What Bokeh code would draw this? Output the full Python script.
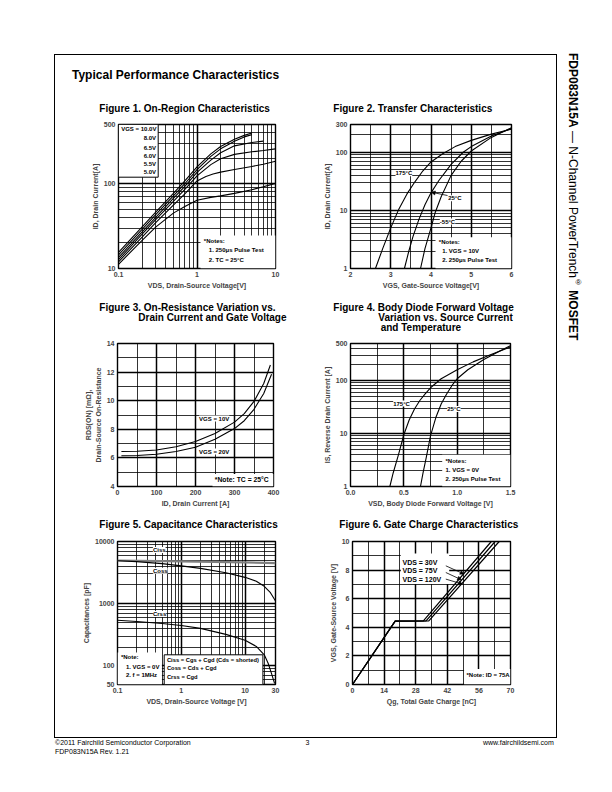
from bokeh.plotting import figure
from bokeh.models import (Range1d, FixedTicker, Grid, NumeralTickFormatter, Label,
                          BoxAnnotation, Arrow, NormalHead, Div, Spacer)
from bokeh.layouts import row, column
from bokeh.embed import file_html
from bokeh.resources import INLINE

FONT = "Liberation Sans"
CSS_FONT = "'Liberation Sans', Arial, sans-serif"

# ---------------- data ----------------
# Figure 1: On-Region Characteristics, ID [A] vs VDS [V]
f1_vds_10v = [0.1, 0.2, 0.3, 0.5, 0.7, 1.0, 1.5, 2.0, 3.0, 4.0, 5.0]
f1_id_10v = [15.5, 31, 46.5, 77, 108, 158, 225, 275, 335, 372, 398]
f1_vds_8v = [0.1, 0.2, 0.3, 0.5, 0.7, 1.0, 1.5, 2.0, 3.0, 4.0, 5.0]
f1_id_8v = [14.5, 29, 43.5, 72, 100, 147, 210, 258, 318, 357, 380]
f1_vds_6v5 = [0.1, 0.2, 0.3, 0.5, 0.7, 1.0, 1.5, 2.0, 3.0, 5.0, 7.0]
f1_id_6v5 = [13.5, 27, 40.5, 67, 93, 136, 190, 232, 280, 306, 318]
f1_vds_6v = [0.1, 0.2, 0.3, 0.5, 0.7, 1.0, 1.5, 2.0, 3.0, 5.0, 7.0, 10.0]
f1_id_6v = [12.7, 25.5, 38, 62, 86, 124, 168, 197, 222, 238, 247, 258]
f1_vds_5v5 = [0.1, 0.2, 0.3, 0.5, 0.7, 1.0, 1.3, 1.6, 2.0, 3.0, 5.0, 7.0, 10.0]
f1_id_5v5 = [12, 23.5, 35, 56, 76, 108, 122, 130, 137, 147, 160, 170, 184]
f1_vds_5v = [0.1, 0.2, 0.3, 0.5, 0.7, 1.0, 1.5, 2.0, 3.0, 5.0, 7.0, 10.0]
f1_id_5v = [11.2, 21.5, 31, 45, 54, 64, 69, 72, 77, 85, 92, 101]
f1_legend = ["VGS = 10.0V", "8.0V", "6.5V", "6.0V", "5.5V", "5.0V"]

# Figure 2: Transfer Characteristics, ID [A] vs VGS [V]
f2_vgs_175 = [2.62, 2.8, 3.0, 3.2, 3.4, 3.6, 3.8, 4.0, 4.3, 4.6, 5.0, 5.5, 6.0]
f2_id_175 = [1, 2.2, 5, 10.5, 19, 31, 48, 68, 95, 125, 160, 205, 250]
f2_vgs_25 = [3.34, 3.45, 3.55, 3.7, 3.85, 4.0, 4.2, 4.5, 4.8, 5.0, 5.5, 6.0]
f2_id_25 = [1, 2, 3.5, 7, 12.5, 20, 33, 62, 100, 125, 190, 255]
f2_vgs_m55 = [3.74, 3.85, 4.0, 4.1, 4.25, 4.5, 4.75, 5.0, 5.5, 6.0]
f2_id_m55 = [1, 2.2, 5, 9, 17, 40, 70, 105, 180, 265]

# Figure 3: On-Resistance vs Drain Current, RDS(on) [mOhm] vs ID [A]
f3_id_10v = [10, 50, 100, 150, 200, 250, 300, 325, 350, 375, 392]
f3_r_10v = [6.45, 6.47, 6.55, 6.78, 7.15, 7.7, 8.5, 9.1, 9.95, 11.2, 12.5]
f3_id_20v = [10, 50, 100, 150, 200, 250, 300, 325, 350, 375, 395]
f3_r_20v = [6.15, 6.17, 6.25, 6.45, 6.75, 7.3, 8.05, 8.6, 9.4, 10.5, 11.85]

# Figure 4: Body Diode Forward Voltage, IS [A] vs VSD [V]
f4_vsd_175 = [0.369, 0.4, 0.45, 0.5, 0.55, 0.6, 0.65, 0.7, 0.75, 0.85, 1.0, 1.15, 1.3, 1.5]
f4_is_175 = [1, 1.8, 4, 9.5, 18, 29, 42, 56, 73, 108, 160, 225, 300, 430]
f4_vsd_25 = [0.656, 0.68, 0.71, 0.75, 0.8, 0.85, 0.9, 0.95, 1.0, 1.1, 1.25, 1.4, 1.5]
f4_is_25 = [1, 1.8, 3.5, 9, 20, 36, 55, 80, 108, 160, 250, 360, 455]

# Figure 5: Capacitance [pF] vs VDS [V]
f5_vds_ciss = [0.1, 1, 10, 30]
f5_ciss = [4950, 4800, 4600, 4500]
f5_vds_coss = [0.1, 0.2, 0.5, 1, 2, 5, 10, 15, 20, 25, 30]
f5_coss = [4900, 4750, 4400, 4050, 3700, 3150, 2650, 2300, 1900, 1500, 1100]
f5_vds_crss = [0.1, 0.2, 0.5, 1, 2, 5, 10, 15, 20, 23, 26, 29]
f5_crss = [540, 515, 480, 445, 400, 320, 258, 205, 150, 110, 75, 52]

# Figure 6: Gate Charge, VGS [V] vs Qg [nC]
f6_qg_30v = [0, 18.9, 31.4, 61.5]
f6_qg_75v = [0, 18.9, 32.6, 63.2]
f6_qg_120v = [0, 18.9, 33.8, 65.0]
f6_vgs = [0, 4.43, 4.45, 10]

# ---------------- helpers ----------------
L, R, T, B = 52, 8, 4, 34


def log_minor(start, end):
    out = []
    e = -3
    while 10 ** e < end * 10:
        for m in range(2, 10):
            v = m * 10 ** e
            if start < v < end:
                out.append(v)
        e += 1
    return out


def chart(fw, fh, xr, yr, xtype, ytype, xticks, yticks, xfmt, yfmt, xlabel, ylabel,
          xminor, xmajor, yminor, ymajor, ylab_lh=1.2):
    p = figure(width=L + fw + R, height=T + fh + B, x_range=Range1d(*xr), y_range=Range1d(*yr),
               x_axis_type=xtype, y_axis_type=ytype, output_backend="svg", toolbar_location=None,
               min_border_left=L, min_border_right=R, min_border_top=T, min_border_bottom=B)
    p.xgrid.visible = False
    p.ygrid.visible = False
    p.outline_line_color = "black"
    p.outline_line_width = 1.4
    p.outline_line_alpha = 1.0
    p.background_fill_color = "white"
    p.border_fill_color = "white"
    for ax, ticks, fmt, lab_ in ((p.xaxis[0], xticks, xfmt, xlabel), (p.yaxis[0], yticks, yfmt, ylabel)):
        ax.ticker = FixedTicker(ticks=ticks, minor_ticks=[])
        ax.formatter = NumeralTickFormatter(format=fmt)
        ax.axis_label = lab_
        ax.axis_line_color = None
        ax.major_tick_line_color = None
        ax.minor_tick_line_color = None
        ax.major_tick_out = 0
        ax.major_tick_in = 0
        ax.minor_tick_out = 0
        ax.minor_tick_in = 0
        ax.major_label_text_font = FONT
        ax.major_label_text_font_size = "7px"
        ax.major_label_text_font_style = "bold"
        ax.major_label_standoff = 3
        ax.axis_label_text_font = FONT
        ax.axis_label_text_font_size = "7px"
        ax.axis_label_text_font_style = "bold"
        ax.axis_label_standoff = 2
    p.yaxis[0].axis_label_text_line_height = ylab_lh
    for dim, ticks, w in ((0, xminor, 0.8), (0, xmajor, 1.5), (1, yminor, 0.8), (1, ymajor, 1.5)):
        if ticks:
            p.add_layout(Grid(dimension=dim, ticker=FixedTicker(ticks=ticks),
                              grid_line_color="black", grid_line_width=w))
    return p


def fh_of(p):
    return p.height - T - B


def lab(p, text, fx, fy, size="6px", align="left", bold=True, bg=False):
    kw = dict(x=fx, y=fh_of(p) - fy, x_units="screen", y_units="screen", text=text,
              text_font=FONT, text_font_size=size, text_font_style="bold" if bold else "normal",
              text_align=align, text_baseline="middle", text_color="black")
    if bg:
        kw.update(background_fill_color="white", background_fill_alpha=1.0)
    p.add_layout(Label(**kw))


def box(p, x0, x1, y0, y1, border=False):
    fh = fh_of(p)
    p.add_layout(BoxAnnotation(left=x0, right=x1, top=fh - y0, bottom=fh - y1,
                               left_units="screen", right_units="screen",
                               top_units="screen", bottom_units="screen",
                               fill_color="white", fill_alpha=1.0,
                               line_color="black" if border else None, line_alpha=1.0,
                               line_width=1, level="annotation"))


def arrow(p, x0, y0, x1, y1):
    fh = fh_of(p)
    p.add_layout(Arrow(end=NormalHead(size=4, fill_color="black", line_color="black", line_width=0.5),
                       x_start=x0, y_start=fh - y0, x_end=x1, y_end=fh - y1,
                       start_units="screen", end_units="screen",
                       line_color="black", line_width=0.8))


LW = 1.1

# ---------------- Figure 1 ----------------
p1 = chart(157, 144, (0.1, 10), (10, 500), "log", "log", [0.1, 1, 10], [10, 100, 500], "0.[0]", "0",
           "VDS, Drain-Source Voltage[V]", "ID, Drain Current[A]",
           log_minor(0.1, 10), [1], log_minor(10, 500), [100])
for xs, ys in ((f1_vds_10v, f1_id_10v), (f1_vds_8v, f1_id_8v), (f1_vds_6v5, f1_id_6v5),
               (f1_vds_6v, f1_id_6v), (f1_vds_5v5, f1_id_5v5), (f1_vds_5v, f1_id_5v)):
    p1.line(xs, ys, line_color="black", line_width=LW)
box(p1, 0, 39.7, 0, 52.7, border=True)
lab(p1, f1_legend[0], 2.7, 4.7)
for i, fy in enumerate([13.7, 23.0, 31.3, 39.7, 47.7]):
    lab(p1, f1_legend[i + 1], 37.5, fy, align="right")
box(p1, 82, 157, 111, 144)
lab(p1, "*Notes:", 85.3, 116.7)
lab(p1, "1. 250\u03bcs Pulse Test", 90.3, 125.0)
lab(p1, "2. TC = 25\u00b0C", 90.3, 135.0)

# ---------------- Figure 2 ----------------
p2 = chart(161, 144, (2, 6), (1, 300), "linear", "log", [2, 3, 4, 5, 6], [1, 10, 100, 300], "0", "0",
           "VGS, Gate-Source Voltage[V]", "ID, Drain Current[A]",
           [2.5, 3.5, 4.5, 5.5], [3, 4, 5], log_minor(1, 300), [10, 100])
for xs, ys in ((f2_vgs_175, f2_id_175), (f2_vgs_25, f2_id_25), (f2_vgs_m55, f2_id_m55)):
    p2.line(xs, ys, line_color="black", line_width=LW)
lab(p2, "175\u00b0C", 45.0, 48.7, bg=True)
lab(p2, "25\u00b0C", 97.7, 73.7, bg=True)
arrow(p2, 97.0, 71.0, 80.7, 67.7)
lab(p2, "-55\u00b0C", 89.3, 97.0, bg=True)
box(p2, 85, 161, 112.7, 144)
lab(p2, "*Notes:", 88.3, 117.7)
lab(p2, "1. VGS = 10V", 91.7, 126.7)
lab(p2, "2. 250\u03bcs Pulse Test", 91.7, 135.3)

# ---------------- Figure 3 ----------------
p3 = chart(156, 143, (0, 400), (4, 14), "linear", "linear", [0, 100, 200, 300, 400], [4, 6, 8, 10, 12, 14],
           "0", "0", "ID, Drain Current [A]", "RDS(ON) [m\u03a9],\nDrain-Source On-Resistance",
           [50, 150, 250, 350], [100, 200, 300], [5, 7, 9, 11, 13], [6, 8, 10, 12], ylab_lh=1.4)
p3.line(f3_id_10v, f3_r_10v, line_color="black", line_width=LW)
p3.line(f3_id_20v, f3_r_20v, line_color="black", line_width=LW)
lab(p3, "VGS = 10V", 81.6, 75.0, bg=True)
lab(p3, "VGS = 20V", 81.6, 108.0, bg=True)
box(p3, 95, 156, 130.6, 143)
lab(p3, "*Note: TC = 25\u00b0C", 97.3, 135.6, size="6.8px")

# ---------------- Figure 4 ----------------
p4 = chart(160, 143, (0, 1.5), (1, 500), "linear", "log", [0, 0.5, 1.0, 1.5], [1, 10, 100, 500], "0.0", "0",
           "VSD, Body Diode Forward Voltage [V]", "IS, Reverse Drain Current [A]",
           [0.25, 0.75, 1.25], [0.5, 1.0], log_minor(1, 500), [10, 100])
p4.line(f4_vsd_175, f4_is_175, line_color="black", line_width=LW)
p4.line(f4_vsd_25, f4_is_25, line_color="black", line_width=LW)
lab(p4, "175\u00b0C", 42.7, 60.0, bg=True)
lab(p4, "25\u00b0C", 96.7, 65.6, bg=True)
box(p4, 91.7, 160, 111.3, 143)
lab(p4, "*Notes:", 95, 117.3)
lab(p4, "1. VGS = 0V", 95, 126.3)
lab(p4, "2. 250\u03bcs Pulse Test", 95, 135.0)

# ---------------- Figure 5 ----------------
p5 = chart(158, 143, (0.1, 30), (50, 10000), "log", "log", [0.1, 1, 10, 30], [50, 100, 1000, 10000],
           "0.[0]", "0", "VDS, Drain-Source Voltage [V]", "Capacitances [pF]",
           log_minor(0.1, 30), [1, 10], log_minor(50, 10000), [100, 1000])
p5.line(f5_vds_ciss, f5_ciss, line_color="#808080", line_width=2.2)
p5.line(f5_vds_coss, f5_coss, line_color="black", line_width=LW)
p5.line(f5_vds_crss, f5_crss, line_color="black", line_width=LW)
lab(p5, "Ciss", 35.4, 8.6, bg=True)
lab(p5, "Coss", 35.4, 29.3, bg=True)
lab(p5, "Crss", 35.4, 72.6, bg=True)
box(p5, 0, 44.4, 111, 143)
lab(p5, "*Note:", 3.4, 115.0)
lab(p5, "1. VGS = 0V", 8.4, 125.0)
lab(p5, "2. f = 1MHz", 8.4, 133.6)
box(p5, 46.7, 145.4, 113.3, 143, border=True)
lab(p5, "Ciss = Cgs + Cgd (Cds = shorted)", 49.4, 118.6, size="5.8px")
lab(p5, "Coss = Cds + Cgd", 49.4, 126.6, size="5.8px")
lab(p5, "Crss = Cgd", 49.4, 135.0, size="5.8px")

# ---------------- Figure 6 ----------------
p6 = chart(158, 143, (0, 70), (0, 10), "linear", "linear", [0, 14, 28, 42, 56, 70], [0, 2, 4, 6, 8, 10],
           "0", "0", "Qg, Total Gate Charge [nC]", "VGS, Gate-Source Voltage [V]",
           [7, 21, 35, 49, 63], [14, 28, 42, 56], [1, 3, 5, 7, 9], [2, 4, 6, 8])
for xs in (f6_qg_30v, f6_qg_75v, f6_qg_120v):
    p6.line(xs, f6_vgs, line_color="black", line_width=1.2)
box(p6, 48.3, 96.7, 12, 42.6)
lab(p6, "VDS = 30V", 50, 21.0, size="7px")
lab(p6, "VDS = 75V", 50, 29.3, size="7px")
lab(p6, "VDS = 120V", 50, 38.3, size="7px")
arrow(p6, 93.3, 24.3, 111.6, 32.6)
arrow(p6, 93.3, 31.0, 109.0, 38.3)
arrow(p6, 93.3, 37.6, 110.0, 42.6)
box(p6, 111.6, 158, 127.6, 143)
lab(p6, "*Note: ID = 75A", 114, 133.3)


# ---------------- page layout ----------------
def text_div(w, h, items, extra=""):
    spans = "".join(
        f'<span style="position:absolute;left:{x}px;top:{y}px;font-size:{fs}px;font-weight:{wt}">{t}</span>'
        for (t, x, y, fs, wt) in items)
    html = (f'<div style="position:relative;width:{w}px;height:{h}px;font-family:{CSS_FONT};'
            f'line-height:1;white-space:nowrap;color:#000;{extra}">{spans}</div>')
    return Div(width=w, height=h, text=html, margin=0)


def rule(w, h):
    return Div(width=w, height=h, text="", margin=0, styles={"background-color": "black"})


div_a = text_div(501, 65, [
    ("Typical Performance Characteristics", 17, 14.1, 12, "bold"),
    ("Figure 1. On-Region Characteristics", 44.3, 49.1, 10, "bold"),
    ("Figure 2. Transfer Characteristics", 278.3, 49.1, 10, "bold"),
])
div_b = text_div(501, 37, [
    ("Figure 3. On-Resistance Variation vs.", 44.3, 0.9, 10, "bold"),
    ("Drain Current and Gate Voltage", 83.3, 11.0, 10, "bold"),
    ("Figure 4. Body Diode Forward Voltage", 278.3, 0.9, 10, "bold"),
    ("Variation vs. Source Current", 323.3, 11.0, 10, "bold"),
    ("and Temperature", 325.7, 21.1, 10, "bold"),
])
div_c = text_div(501, 17, [
    ("Figure 5. Capacitance Characteristics", 44.3, 0.1, 10, "bold"),
    ("Figure 6. Gate Charge Characteristics", 284.3, 0.1, 10, "bold"),
])

row_a = row(Spacer(width=11, height=1), p1, Spacer(width=15, height=1), p2)
row_b = row(Spacer(width=10, height=1), p3, Spacer(width=17, height=1), p4)
row_c = row(Spacer(width=10, height=1), p5, Spacer(width=17, height=1), p6)
inner = column(div_a, row_a, div_b, row_b, div_c, row_c)

footer = text_div(557, 24, [
    ("\u00a92011 Fairchild Semiconductor Corporation", 55, 0.6, 7, "normal"),
    ("FDP083N15A Rev. 1.21", 55, 10.0, 7, "normal"),
    ("3", 305.5, 0.6, 7, "normal"),
    ("www.fairchildsemi.com", 483, 0.6, 7, "normal"),
])

left_part = column(
    Spacer(width=557, height=54),
    row(Spacer(width=54, height=1), rule(503, 1)),
    row(Spacer(width=54, height=682), rule(1, 682), inner, rule(1, 682)),
    row(Spacer(width=54, height=1), rule(503, 1)),
    footer,
)

side = Div(width=12, height=300, margin=0, text=(
    f'<div style="writing-mode:vertical-rl;font-family:{CSS_FONT};font-size:12px;line-height:12px;'
    'white-space:nowrap;color:#000"><b>FDP083N15A</b> \u2014 N-Channel PowerTrench'
    '<sup style="font-size:8px;line-height:0">\u00ae</sup> <b>MOSFET</b></div>'))
side_col = column(Spacer(width=12, height=53), side)

page = row(left_part, Spacer(width=10, height=1), side_col)

open("out.html", "w").write(file_html(page, INLINE, title="FDP083N15A Typical Performance Characteristics"))
